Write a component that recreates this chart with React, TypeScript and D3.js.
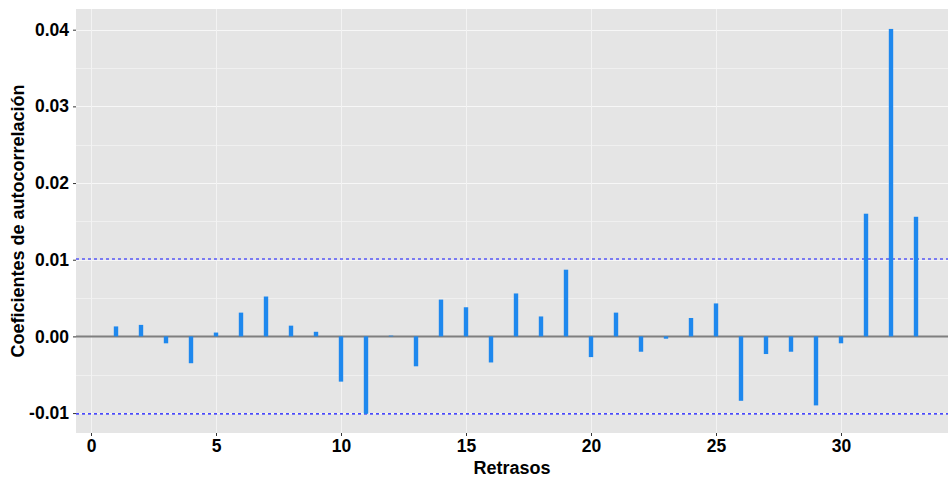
import React, { useEffect, useRef } from 'react';
import * as d3 from 'd3';

// lags and autocorrelation coefficients
const lags = [1, 2, 3, 4, 5, 6, 7, 8, 9, 10, 11, 12, 13, 14, 15, 16, 17, 18, 19, 20, 21, 22, 23, 24, 25, 26, 27, 28, 29, 30, 31, 32, 33];
const acfValues = [
  0.0013, 0.0015, -0.0009, -0.0035, 0.0005, 0.0031, 0.0052, 0.0014, 0.0006, -0.0059,
  -0.0101, 0.0001, -0.0039, 0.0048, 0.0038, -0.0034, 0.0056, 0.0026, 0.0087, -0.0027,
  0.0031, -0.002, -0.0003, 0.0024, 0.0043, -0.0084, -0.0023, -0.002, -0.009, -0.0009,
  0.016, 0.0401, 0.0156,
];
const confLimit = 0.0101;
const xTicks = [0, 5, 10, 15, 20, 25, 30];
const yTicks = [-0.01, 0, 0.01, 0.02, 0.03, 0.04];
const yMinor = [-0.005, 0.005, 0.015, 0.025, 0.035];

const App = () => {
  const ref = useRef<SVGSVGElement>(null);

  useEffect(() => {
    const W = 948, H = 478;
    const margin = { top: 9, right: -8, bottom: 45, left: 76 };
    const width = W - margin.left - margin.right;
    const height = H - margin.top - margin.bottom;

    const root = d3.select(ref.current);
    root.selectAll('*').remove();

    const svg = root.append('g').attr('transform', `translate(${margin.left},${margin.top})`);

    const x = d3.scaleLinear().domain([-0.6, 34.6]).range([0, width]);
    const y = d3.scaleLinear().domain([-0.0126, 0.0427]).range([height, 0]);
    const px = (v: number) => Math.round(v) + 0.5;

    // panel background
    svg.append('rect').attr('width', width).attr('height', height).attr('fill', '#e5e5e5');

    // grid
    svg.selectAll('.ymin').data(yMinor).enter().append('line')
      .attr('x1', 0).attr('x2', width)
      .attr('y1', (d) => px(y(d))).attr('y2', (d) => px(y(d)))
      .attr('stroke', '#f0f0f0').attr('stroke-width', 1);
    svg.selectAll('.ymaj').data(yTicks).enter().append('line')
      .attr('x1', 0).attr('x2', width)
      .attr('y1', (d) => px(y(d))).attr('y2', (d) => px(y(d)))
      .attr('stroke', '#f7f7f7').attr('stroke-width', 1);
    svg.selectAll('.xmaj').data(xTicks).enter().append('line')
      .attr('y1', 0).attr('y2', height)
      .attr('x1', (d) => px(x(d))).attr('x2', (d) => px(x(d)))
      .attr('stroke', '#f3f3f3').attr('stroke-width', 1);

    // confidence limits
    [confLimit, -confLimit].forEach((v) => {
      svg.append('line')
        .attr('x1', 0).attr('x2', width)
        .attr('y1', y(v)).attr('y2', y(v))
        .attr('stroke', '#1010ff').attr('stroke-width', 1.1)
        .attr('stroke-dasharray', '3,3');
    });

    // zero line
    svg.append('line')
      .attr('x1', 0).attr('x2', width)
      .attr('y1', y(0)).attr('y2', y(0))
      .attr('stroke', '#7f7f7f').attr('stroke-width', 2);

    // bars
    svg.selectAll('.bar').data(lags).enter().append('rect')
      .attr('x', (d) => x(d) - 2.2)
      .attr('width', 4.4)
      .attr('y', (d, i) => y(Math.max(0, acfValues[i])))
      .attr('height', (d, i) => Math.abs(y(acfValues[i]) - y(0)))
      .attr('fill', '#1E88EE');

    // axes (plain hyphen for negatives, like R)
    const yFmt = (d) => d3.format('.2f')(d).replace('\u2212', '-');
    const xAxis = svg.append('g').attr('transform', `translate(0,${height})`)
      .call(d3.axisBottom(x).tickValues(xTicks).tickFormat(d3.format('d')).tickSize(3).tickPadding(4));
    const yAxis = svg.append('g')
      .call(d3.axisLeft(y).tickValues(yTicks).tickFormat(yFmt).tickSize(3).tickPadding(4));
    [xAxis, yAxis].forEach((a) => {
      a.select('.domain').remove();
      a.selectAll('line').attr('stroke', '#333333').attr('stroke-width', 1);
      a.selectAll('text')
        .attr('fill', '#000')
        .style('font-family', '"Liberation Sans", Arial, sans-serif')
        .style('font-size', '17.5px')
        .style('font-weight', 'bold');
    });

    svg.append('text')
      .attr('x', width / 2 - 4).attr('y', height + 41)
      .attr('text-anchor', 'middle')
      .style('font-family', '"Liberation Sans", Arial, sans-serif')
      .style('font-size', '18px').style('font-weight', 'bold')
      .text('Retrasos');

    svg.append('text')
      .attr('transform', `translate(${-52},${height / 2}) rotate(-90)`)
      .attr('text-anchor', 'middle')
      .style('font-family', '"Liberation Sans", Arial, sans-serif')
      .style('font-size', '18px').style('font-weight', 'bold')
      .text('Coeficientes de autocorrelación');
  }, []);

  return <svg ref={ref} width={948} height={478} style={{ position: 'absolute', left: 0, top: 0, background: '#fff' }} />;
};

export default App;
